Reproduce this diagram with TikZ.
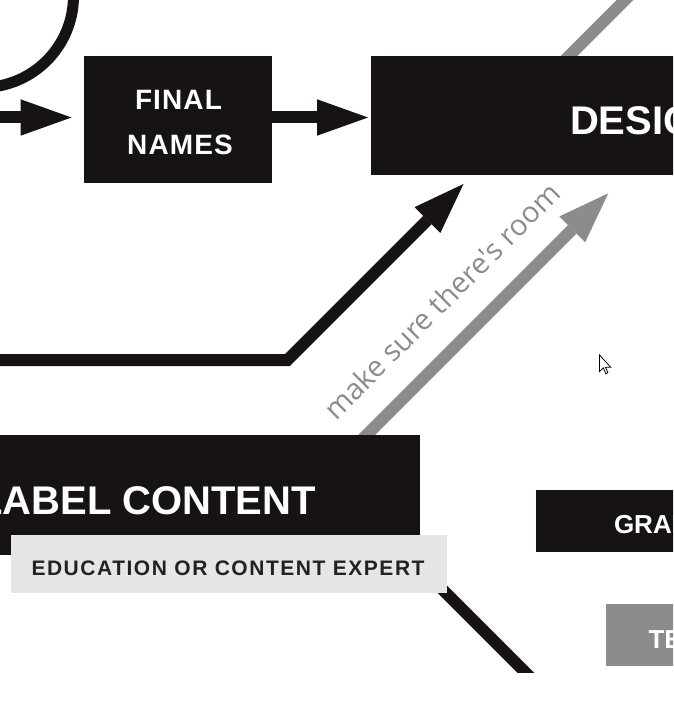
\documentclass[tikz,border=0pt]{standalone}
\usepackage{fontspec}
\setmainfont{Liberation Sans}
\newfontfamily\boxfont{Liberation Sans}
\newfontfamily\trackfont[LetterSpace=4]{Liberation Sans}
\newfontfamily\edufont[LetterSpace=7.3]{Liberation Sans}
\newfontfamily\notefont[Ligatures=TeXOff]{Open Sans}
\usetikzlibrary{arrows.meta}
\definecolor{ink}{RGB}{23,19,20}
\definecolor{midgray}{RGB}{140,140,140}
\definecolor{palegray}{RGB}{230,230,230}
\definecolor{edutext}{RGB}{34,34,34}
\pgfdeclarelayer{back}
\pgfsetlayers{back,main}
\begin{document}
\begin{tikzpicture}[x=1pt,y=-1pt,
  box/.style={draw=none, inner sep=0pt, outer sep=0pt, anchor=north west, rectangle},
  blackbox/.style={box, fill=ink},
  label/.style={inner sep=0pt, outer sep=0pt, text=white},
  headtip/.style={-{Triangle[length=51pt,width=36.5pt,line width=0pt]}},
  blackarrow/.style={draw=ink, line width=12pt, headtip},
  grayarrow/.style={draw=midgray, line width=12pt, headtip},
  grayline/.style={draw=midgray, line width=12pt},
  blackline/.style={draw=ink, line width=12pt}]
\useasboundingbox (0,0) rectangle (673,703);
\clip (0,0) rectangle (673,703);

% loop ring
\node[circle, draw=ink, line width=11pt, minimum size=183pt, inner sep=0pt] (loop) at (-18,-4) {};

% boxes
\node[blackbox, minimum width=188pt, minimum height=127pt] (fin) at (84,56) {};
\node[blackbox, minimum width=560pt, minimum height=119pt] (des) at (371,56) {};
\node[blackbox, minimum width=460pt, minimum height=120pt] (lab) at (-40,435) {};
\node[box, fill=palegray, minimum width=436pt, minimum height=58pt] (edu) at (11,535) {};
\node[blackbox, minimum width=200pt, minimum height=62pt] (gra) at (536,490) {};
\node[box, fill=midgray, minimum width=200pt, minimum height=62pt] (tec) at (606,604) {};

% texts
\node[label, anchor=base] (finA) at (178.5,110) {\trackfont\bfseries\fontsize{28}{28}\selectfont FINAL};
\node[label, anchor=base] (finB) at (180,155) {\trackfont\bfseries\fontsize{28}{28}\selectfont NAMES};
\node[label, anchor=base west] (desT) at (570,135) {\boxfont\bfseries\fontsize{40}{40}\selectfont DESIGN};
\node[label, anchor=base east] (labT) at (316,514) {\boxfont\bfseries\fontsize{40}{40}\selectfont LABEL CONTENT};
\node[inner sep=0pt, outer sep=0pt, text=edutext, anchor=base west] (eduT) at (31.5,575) {\edufont\bfseries\fontsize{21}{21}\selectfont EDUCATION OR CONTENT EXPERT};
\node[label, anchor=base west] (graT) at (614,533.5) {\boxfont\bfseries\fontsize{26}{26}\selectfont GRAPHIC DESIGN};
\node[label, anchor=base west] (tecT) at (648.5,648) {\boxfont\bfseries\fontsize{26}{26}\selectfont TECH};
\node[inner sep=0pt, outer sep=0pt, text=midgray, anchor=base west, rotate=45] (note) at (336,421.5) {\notefont\fontsize{29}{29}\selectfont make sure there's room};

% free ends
\coordinate (inA) at (-5,117.5);
\coordinate (inB) at (-5,360);
\coordinate (bend) at (287.5,360);
\coordinate (tipB) at (463.5,184);
\coordinate (grayS) at (348.5,453);
\coordinate (grayT) at (608.3,193.3);
\coordinate (topS) at (540,85);
\coordinate (topE) at (640,-15);
\coordinate (eduS) at (430,577);
\coordinate (eduE) at (545,692);

\begin{pgfonlayer}{back}
  \draw[grayline] (topS) -- (topE);
  \draw[grayarrow] (grayS) -- (grayT);
  \begin{scope}
    \clip (0,0) rectangle (673,672);
    \draw[blackline] (eduS) -- (eduE);
  \end{scope}
\end{pgfonlayer}

% connectors
\draw[blackarrow, shorten >=12.5pt] (inA) -- (inA -| fin.west);
\draw[blackarrow, shorten >=3pt] (inA -| fin.east) -- (inA -| des.west);
\draw[blackarrow] (inB) -- (bend) -- (tipB);

% mouse pointer
\draw[fill=white, draw=black, line width=0.8pt, line join=miter, shift={(599.5,355)}]
  (0,0) -- (0,16.5) -- (3.9,12.9) -- (6.3,18.6) -- (8.4,17.7) -- (6,12.2) -- (11.2,12.2) -- cycle;
\end{tikzpicture}
\end{document}
